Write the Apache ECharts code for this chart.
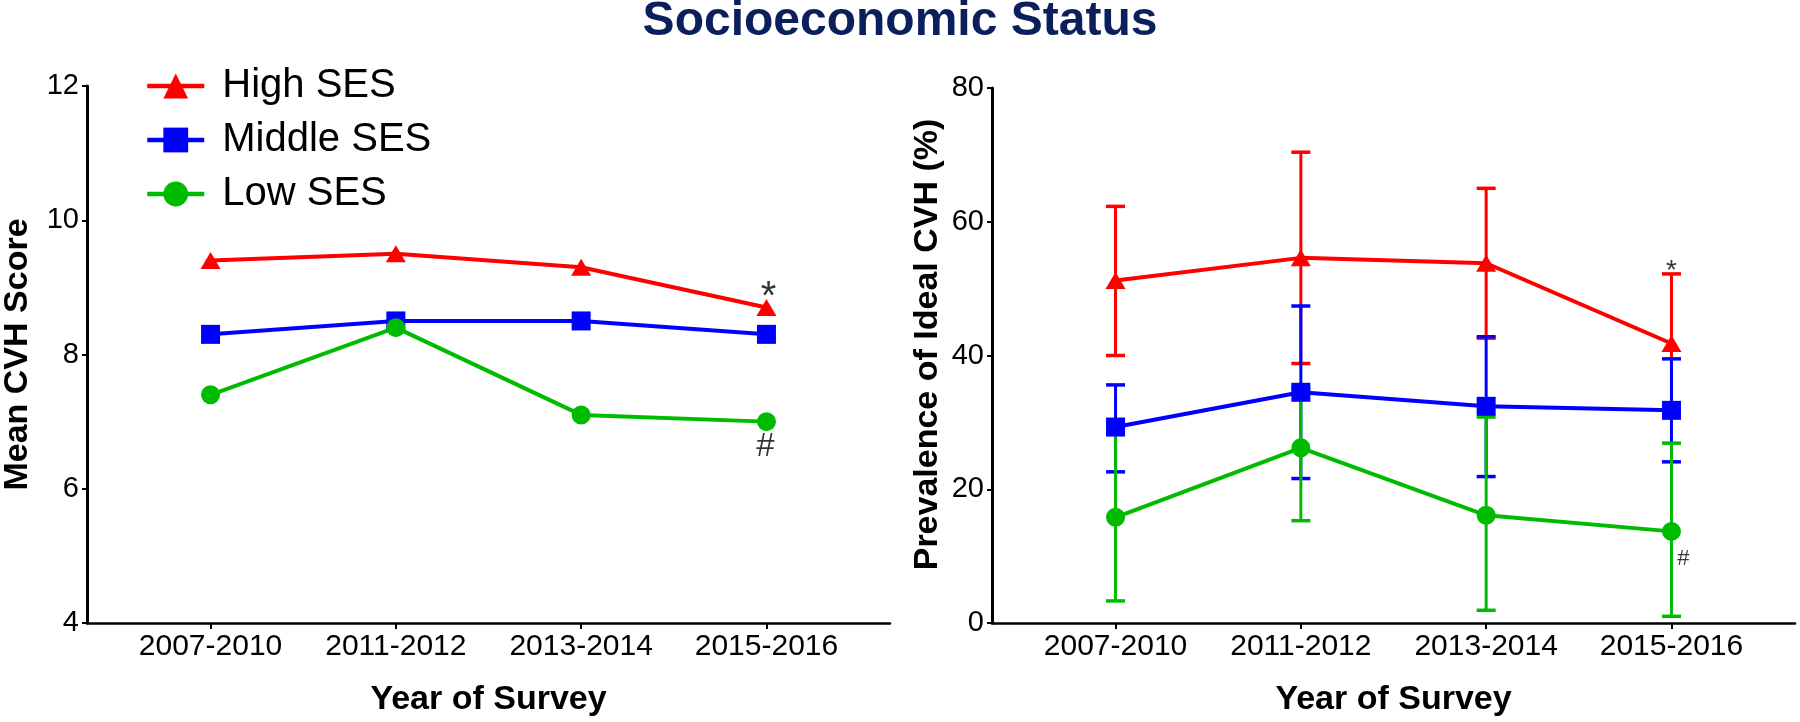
<!DOCTYPE html>
<html><head><meta charset="utf-8">
<script src="https://cdn.jsdelivr.net/npm/echarts@6/dist/echarts.min.js"></script>
<style>html,body{margin:0;padding:0;background:#fff}#c{width:1800px;height:722px}</style>
</head><body><div id="c"></div>
<script>
// ---- data ----
const categories = ['2007-2010', '2011-2012', '2013-2014', '2015-2016'];
const seriesNames = ['High SES', 'Middle SES', 'Low SES'];
// Left panel: Mean CVH Score
const scoreHigh   = [9.4, 9.5, 9.3, 8.7];
const scoreMiddle = [8.3, 8.5, 8.5, 8.3];
const scoreLow    = [7.4, 8.4, 7.1, 7.0];
// Right panel: Prevalence of Ideal CVH (%) with confidence intervals
const prevHigh     = [51.2, 54.6, 53.8, 41.8];
const prevHighLo   = [40.0, 38.8, 42.6, 31.0];
const prevHighHi   = [62.3, 70.4, 65.0, 52.2];
const prevMiddle   = [29.3, 34.5, 32.4, 31.8];
const prevMiddleLo = [22.6, 21.6, 21.9, 24.1];
const prevMiddleHi = [35.6, 47.4, 42.8, 39.5];
const prevLow      = [15.8, 26.2, 16.1, 13.7];
const prevLowLo    = [3.3, 15.3, 1.9, 1.0];
const prevLowHi    = [28.6, 35.1, 30.8, 26.9];
// significance marks
const leftNotes  = [{ text: '*', series: 'high', index: 3 }, { text: '#', series: 'low', index: 3 }];
const rightNotes = [{ text: '*', series: 'highHi', index: 3 }, { text: '#', series: 'low', index: 3 }];

// ---- styling ----
const FONT = 'Liberation Sans, Arial, sans-serif';
const RED = '#ff0000', BLUE = '#0000ff', GREEN = '#00bb00';
const colors = [RED, BLUE, GREEN];
const symbols = ['triangle', 'rect', 'circle'];
const symbolSizes = [[20, 17], 19, 19];
const catTicks = categories.map((c, i) => i);

function xAxis(gridIndex) {
  return {
    type: 'value', gridIndex, min: -2 / 3, max: 3 + 2 / 3,
    splitLine: { show: false },
    axisLine: { show: true, onZero: false, lineStyle: { color: '#000', width: 2.5 } },
    axisTick: { show: true, customValues: catTicks, length: 6, lineStyle: { color: '#000', width: 2 } },
    axisLabel: { customValues: catTicks, formatter: v => categories[Math.round(v)], fontSize: 30, color: '#000', fontFamily: FONT, margin: 9 },
    name: 'Year of Survey', nameLocation: 'middle', nameGap: 60,
    nameTextStyle: { fontSize: 34, fontWeight: 'bold', color: '#000', fontFamily: FONT }
  };
}
function yAxis(gridIndex, min, max, interval, name, nameGap, nameStyleExtra) {
  return {
    type: 'value', gridIndex, min, max, interval,
    splitLine: { show: false },
    axisLine: { show: true, onZero: false, lineStyle: { color: '#000', width: 3 } },
    axisTick: { show: true, length: 5, lineStyle: { color: '#000', width: 2 } },
    axisLabel: { fontSize: 29, color: '#000', fontFamily: FONT, margin: 8 },
    name, nameLocation: 'middle', nameGap,
    nameTextStyle: Object.assign({ fontSize: 34, fontWeight: 'bold', color: '#000', fontFamily: FONT }, nameStyleExtra || {})
  };
}

function lineSeries(k, data, axisIndex) {
  return {
    type: 'line', name: seriesNames[k], xAxisIndex: axisIndex, yAxisIndex: axisIndex,
    data: data.map((v, i) => [i, v]),
    symbol: symbols[k], symbolSize: symbolSizes[k], showSymbol: true,
    lineStyle: { color: colors[k], width: 4 },
    itemStyle: { color: colors[k] },
    emphasis: { disabled: true }, silent: true, z: 2
  };
}
function errSeries(k, lo, hi) {
  const color = colors[k];
  return {
    type: 'custom', name: seriesNames[k] + ' CI', xAxisIndex: 1, yAxisIndex: 1,
    data: lo.map((l, i) => [i, l, hi[i]]),
    encode: { x: 0, y: [1, 2] }, silent: true, z: 2,
    renderItem(params, api) {
      const x = api.value(0);
      const pHi = api.coord([x, api.value(2)]);
      const pLo = api.coord([x, api.value(1)]);
      const cw = 9.5;
      return {
        type: 'group', children: [
          { type: 'line', shape: { x1: pHi[0], y1: pHi[1], x2: pLo[0], y2: pLo[1] }, style: { stroke: color, lineWidth: 3 } },
          { type: 'line', shape: { x1: pHi[0] - cw, y1: pHi[1], x2: pHi[0] + cw, y2: pHi[1] }, style: { stroke: color, lineWidth: 3.5 } },
          { type: 'line', shape: { x1: pLo[0] - cw, y1: pLo[1], x2: pLo[0] + cw, y2: pLo[1] }, style: { stroke: color, lineWidth: 3.5 } }
        ]
      };
    }
  };
}
function noteSeries(axisIndex, notes, lookup, styles) {
  return {
    type: 'scatter', xAxisIndex: axisIndex, yAxisIndex: axisIndex, silent: true, z: 5,
    symbolSize: 1, itemStyle: { color: 'rgba(0,0,0,0)' },
    data: notes.map((n, j) => ({
      value: [n.index, lookup[n.series][n.index]], name: n.text,
      label: Object.assign({ show: true, position: 'inside', formatter: '{b}', color: '#000', fontFamily: FONT }, styles[j])
    }))
  };
}

const leftLookup = { high: scoreHigh, middle: scoreMiddle, low: scoreLow };
const rightLookup = { highHi: prevHighHi, low: prevLow };

const option = {
  animation: false,
  backgroundColor: '#fff',
  title: {
    text: 'Socioeconomic Status', left: 900, top: -2, textAlign: 'center', padding: 0,
    textStyle: { fontSize: 48, fontWeight: 'bold', color: '#0b1f5c', fontFamily: FONT }
  },
  legend: {
    data: seriesNames, orient: 'vertical', left: 145, top: 66, padding: 0,
    itemWidth: 57, itemHeight: 31, itemGap: 14, selectedMode: false,
    lineStyle: { width: 4.5 },
    textStyle: { fontSize: 40, color: '#000', fontFamily: FONT, padding: [0, 0, 0, 13], lineHeight: 40 }
  },
  grid: [
    { left: 83, right: 910, top: 86, bottom: 98, containLabel: false },
    { left: 992, right: 5, top: 88, bottom: 98, containLabel: false }
  ],
  xAxis: [xAxis(0), xAxis(1)],
  yAxis: [
    yAxis(0, 4, 12, 2, 'Mean CVH Score', 52),
    yAxis(1, 0, 80, 20, 'Prevalence of Ideal CVH (%)', 47, { fontSize: 34, padding: [0, 0, 0, 22] })
  ],
  series: [
    lineSeries(0, scoreHigh, 0),
    lineSeries(1, scoreMiddle, 0),
    lineSeries(2, scoreLow, 0),
    lineSeries(0, prevHigh, 1),
    errSeries(0, prevHighLo, prevHighHi),
    lineSeries(1, prevMiddle, 1),
    errSeries(1, prevMiddleLo, prevMiddleHi),
    lineSeries(2, prevLow, 1),
    errSeries(2, prevLowLo, prevLowHi),
    noteSeries(0, leftNotes, leftLookup, [{ fontSize: 40, offset: [2, -10] }, { fontSize: 33, offset: [-1, 25] }]),
    noteSeries(1, rightNotes, rightLookup, [{ fontSize: 28, offset: [0, -3] }, { fontSize: 22, offset: [12, 28] }])
  ]
};
const chart = echarts.init(document.getElementById('c'), null, { renderer: 'canvas' });
chart.setOption(option);
</script>
</body></html>
